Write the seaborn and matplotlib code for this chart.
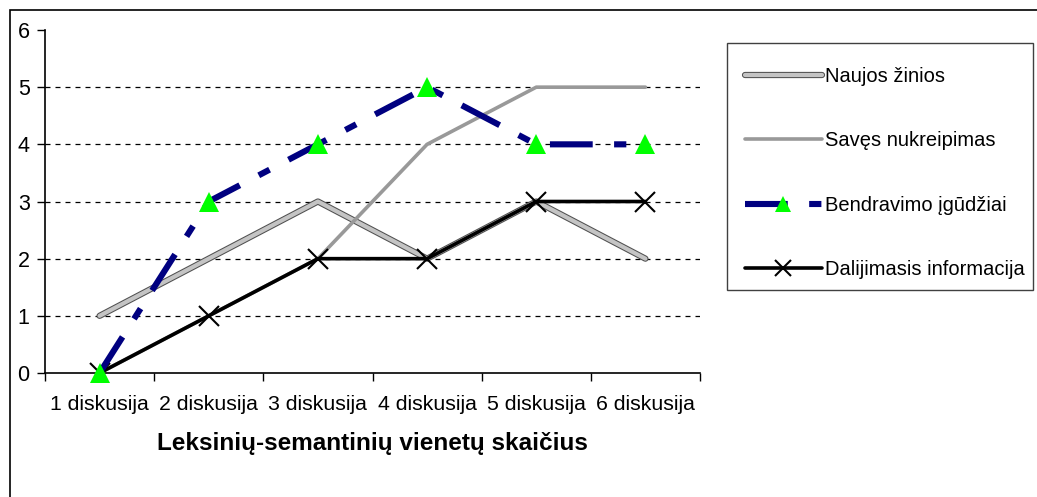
#!/usr/bin/env python3
# Line chart: lexical-semantic units per discussion (Excel-like look)

import matplotlib
matplotlib.use("Agg")
import matplotlib.pyplot as plt
import matplotlib.patheffects as pe
from matplotlib.lines import Line2D
from matplotlib.patches import Rectangle
import seaborn as sns

discussions = ["1 diskusija", "2 diskusija", "3 diskusija",
               "4 diskusija", "5 diskusija", "6 diskusija"]
naujos_zinios = [1, 2, 3, 2, 3, 2]
saves_nukreipimas = [0, 1, 2, 4, 5, 5]
bendravimo_igudziai = [0, 3, 4, 5, 4, 4]
dalijimasis_info = [0, 1, 2, 2, 3, 3]

series_names = ["Naujos žinios", "Savęs nukreipimas",
                "Bendravimo įgūdžiai", "Dalijimasis informacija"]
y_ticks = [0, 1, 2, 3, 4, 5, 6]
xlabel = "Leksinių-semantinių vienetų skaičius"

sns.set_style("white")
plt.rcParams["font.family"] = ["Liberation Sans", "DejaVu Sans"]
plt.rcParams["text.color"] = "black"
plt.rcParams["axes.labelcolor"] = "black"
plt.rcParams["xtick.color"] = "black"
plt.rcParams["ytick.color"] = "black"

W, H = 1037, 497
fig = plt.figure(figsize=(W / 100, H / 100), dpi=100)
ax = fig.add_axes([45 / W, 1 - 373 / H, 655 / W, 343 / H])

pos = list(range(len(discussions)))

# outer frame of the chart
fig.patches.append(Rectangle((10 / W, -0.2), 1.2, 1.2 - 10 / H,
                             transform=fig.transFigure, fill=False,
                             edgecolor="black", linewidth=1.2, zorder=0))
# legend frame
fig.patches.append(Rectangle((727 / W, 1 - 290 / H), 306 / W, 247 / H,
                             transform=fig.transFigure, fill=False,
                             edgecolor="#404040", linewidth=1.0, zorder=0))

# gridlines
for yv in y_ticks[1:-1]:
    ax.axhline(yv, color="black", linewidth=0.9, dashes=(4, 4), zorder=1)

naujos_fx = [pe.Stroke(linewidth=4.5, foreground="#505050"), pe.Normal()]

# Naujos zinios - checkered grey line
sns.lineplot(x=pos, y=naujos_zinios, ax=ax, color="#c4c4c4", linewidth=3,
             path_effects=naujos_fx, zorder=3)
# Saves nukreipimas
sns.lineplot(x=pos, y=saves_nukreipimas, ax=ax, color="#999999",
             linewidth=2.6, zorder=3)
# Dalijimasis informacija
sns.lineplot(x=pos, y=dalijimasis_info, ax=ax, color="black", linewidth=2.6,
             marker="x", markersize=15, markeredgewidth=1.5,
             markeredgecolor="black", zorder=4)
# Bendravimo igudziai
sns.lineplot(x=pos, y=bendravimo_igudziai, ax=ax, color="#000080",
             linewidth=4.4, zorder=5)
ax.lines[-1].set_dashes((7, 3.5, 2, 3.5))
ax.lines[-1].set_dash_capstyle("butt")
ax.plot(pos, bendravimo_igudziai, linestyle="none", marker="^",
        markersize=15, color="#00ff00", markeredgewidth=0, zorder=6,
        clip_on=False)

ax.set_xlim(-0.5, len(discussions) - 0.5)
ax.set_ylim(0, 6)
ax.set_yticks(y_ticks)
ax.set_yticklabels([str(v) for v in y_ticks], fontsize=15.5)
ax.set_xticks([p - 0.5 for p in range(len(discussions) + 1)])
ax.set_xticklabels([])
ax.set_xticks(pos, minor=True)
ax.set_xticklabels(discussions, minor=True, fontsize=15.3)
ax.tick_params(axis="x", which="major", direction="out", length=6,
               width=1, color="black", bottom=True)
ax.tick_params(axis="x", which="minor", length=0, pad=16)
ax.tick_params(axis="y", direction="out", length=6, width=1,
               color="black", left=True, pad=5)
for s in ["top", "right"]:
    ax.spines[s].set_visible(False)
for s in ["left", "bottom"]:
    ax.spines[s].set_color("black")
    ax.spines[s].set_linewidth(1.2)
ax.set_xlabel(xlabel, fontsize=17.5, fontweight="bold", labelpad=13)
ax.set_ylabel("")

handles = [
    Line2D([], [], color="#c4c4c4", linewidth=3, path_effects=naujos_fx),
    Line2D([], [], color="#999999", linewidth=2.6),
    Line2D([], [], color="#000080", linewidth=4.4, dashes=(7, 3.5, 2, 3.5),
           marker="^", markersize=11, markerfacecolor="#00ff00",
           markeredgewidth=0, dash_capstyle="butt"),
    Line2D([], [], color="black", linewidth=2.6, marker="x",
           markersize=12, markeredgewidth=1.5),
]
leg = fig.legend(handles, series_names, loc="upper left",
                 bbox_to_anchor=(745 / W, 1 - 67 / H),
                 fontsize=14.5, frameon=False,
                 handlelength=3.8, handletextpad=0.15, labelspacing=2.25,
                 borderpad=0, borderaxespad=0)

fig.savefig("out.png", dpi=100)
plt.close(fig)
